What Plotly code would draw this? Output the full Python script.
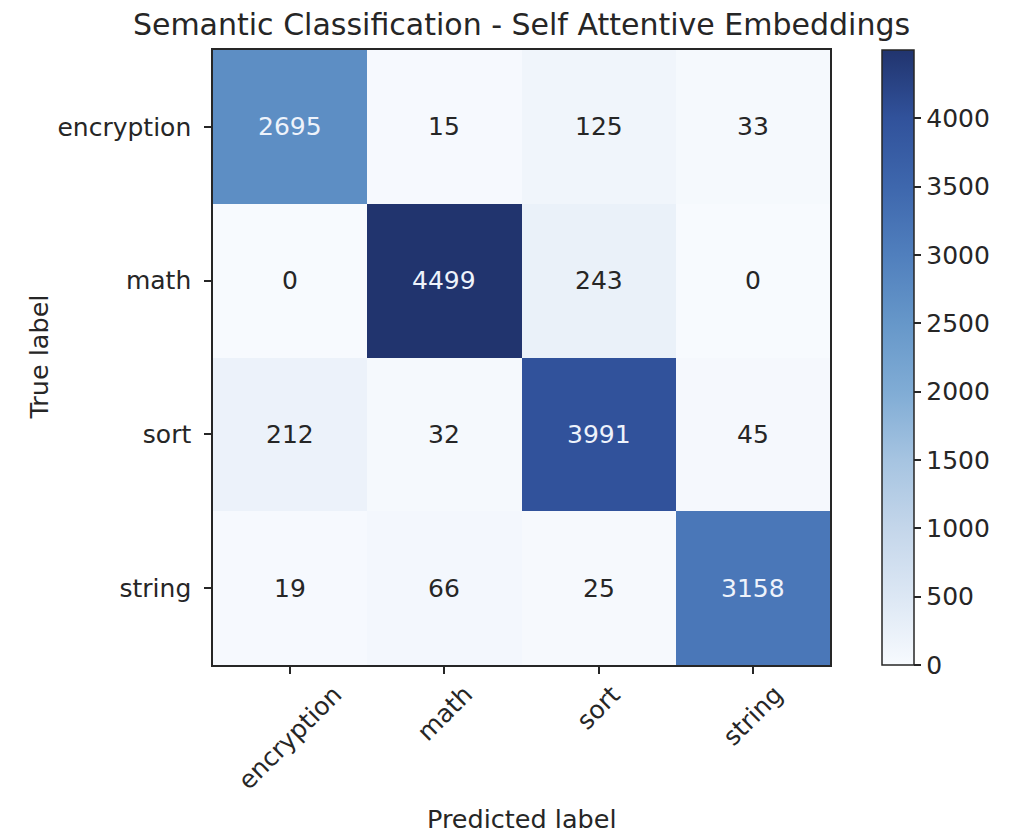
import plotly.graph_objects as go

# Confusion matrix for the semantic classifier
classes = ["encryption", "math", "sort", "string"]
row_encryption = [2695, 15, 125, 33]
row_math = [0, 4499, 243, 0]
row_sort = [212, 32, 3991, 45]
row_string = [19, 66, 25, 3158]
matrix = [row_encryption, row_math, row_sort, row_string]
cbar_ticks = [0, 500, 1000, 1500, 2000, 2500, 3000, 3500, 4000]

title_text = "Semantic Classification - Self Attentive Embeddings"
xlabel = "Predicted label"
ylabel = "True label"

FONT = "DejaVu Sans"
INK = "#262626"
TICK_SIZE = 25

blues = [
    [0.000, "rgb(247,250,254)"],
    [0.111, "rgb(220,231,244)"],
    [0.222, "rgb(196,214,234)"],
    [0.333, "rgb(166,196,225)"],
    [0.444, "rgb(128,172,213)"],
    [0.556, "rgb(102,151,201)"],
    [0.667, "rgb(80,127,189)"],
    [0.778, "rgb(62,103,173)"],
    [0.889, "rgb(49,82,155)"],
    [1.000, "rgb(33,52,110)"],
]

zmax = max(max(r) for r in matrix)

fig = go.Figure(
    go.Heatmap(
        z=matrix,
        x=classes,
        y=classes,
        zmin=0,
        zmax=zmax,
        colorscale=blues,
        hoverongaps=False,
        colorbar=dict(
            x=(882 - 213) / 617,
            xanchor="left",
            xpad=0,
            ypad=0,
            y=0.5,
            len=1.0,
            lenmode="fraction",
            thickness=32,
            thicknessmode="pixels",
            outlinewidth=1.5,
            outlinecolor=INK,
            tickvals=cbar_ticks,
            ticks="outside",
            ticklen=7,
            tickwidth=1.5,
            tickcolor=INK,
            tickfont=dict(family=FONT, size=TICK_SIZE, color=INK),
        ),
    )
)

# Cell counts, light on dark cells and dark on light ones
thresh = zmax / 2
annotations = []
for i, row in enumerate(matrix):
    for j, v in enumerate(row):
        annotations.append(
            dict(
                x=classes[j],
                y=classes[i],
                xref="x",
                yref="y",
                text=str(v),
                showarrow=False,
                font=dict(family=FONT, size=TICK_SIZE,
                          color="#eef3fb" if v > thresh else INK),
            )
        )

# Rotated category labels centred under each tick
for name in classes:
    annotations.append(
        dict(
            x=name, y=0, xref="x", yref="paper",
            text=name, textangle=-45, showarrow=False,
            xanchor="center", yanchor="top", yshift=-12,
            font=dict(family=FONT, size=TICK_SIZE, color=INK),
        )
    )

annotations.append(
    dict(text=ylabel, x=(38 - 213) / 617, y=0.5, xref="paper", yref="paper",
         xanchor="center", yanchor="middle", textangle=-90, showarrow=False,
         font=dict(family=FONT, size=25.5, color=INK))
)
annotations.append(
    dict(text=xlabel, x=0.5, y=(665 - 819) / 615, xref="paper", yref="paper",
         xanchor="center", yanchor="middle", showarrow=False,
         font=dict(family=FONT, size=25.5, color=INK))
)

axis_common = dict(
    showline=True,
    mirror=True,
    linecolor=INK,
    linewidth=1.5,
    ticks="outside",
    ticklen=7,
    tickwidth=1.5,
    tickcolor=INK,
    showgrid=False,
    zeroline=False,
    tickfont=dict(family=FONT, size=TICK_SIZE, color=INK),
)

fig.update_layout(
    width=1009,
    height=833,
    margin=dict(l=213, r=179, t=50, b=168),
    paper_bgcolor="white",
    plot_bgcolor="white",
    font=dict(family=FONT, color=INK),
    title=dict(
        text=title_text,
        x=(213 + 617 / 2) / 1009,
        xref="container",
        xanchor="center",
        y=1 - 24 / 833,
        yref="container",
        yanchor="middle",
        font=dict(family=FONT, size=30, color=INK),
    ),
    xaxis=dict(axis_common, showticklabels=False),
    yaxis=dict(axis_common, autorange="reversed", ticklabelstandoff=8),
    annotations=annotations,
)

fig.write_html("out.html")
